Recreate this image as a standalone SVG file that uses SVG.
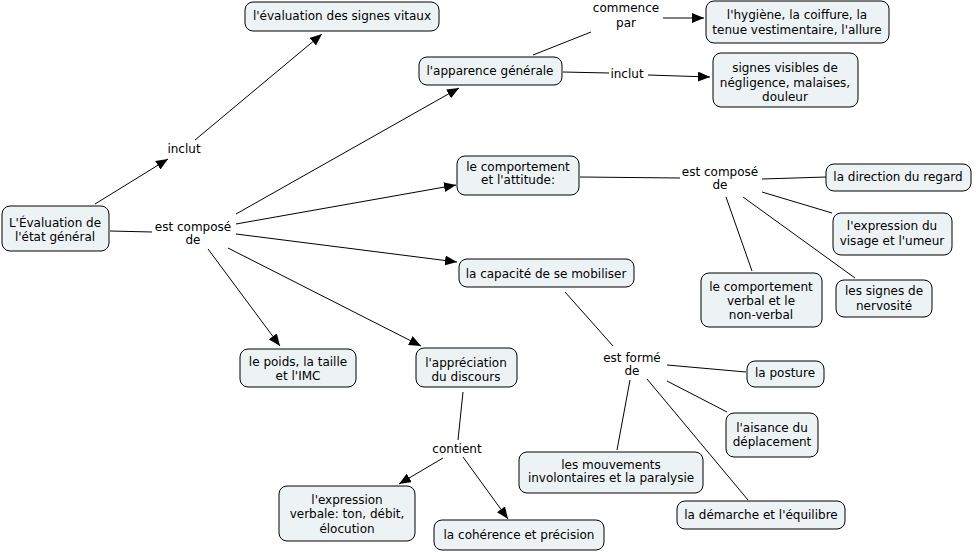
<svg xmlns="http://www.w3.org/2000/svg" width="976" height="552" viewBox="0 0 976 552">
<defs>
<marker id="arr" viewBox="0 0 12 10" refX="12" refY="5" markerWidth="12" markerHeight="10" markerUnits="userSpaceOnUse" orient="auto">
<path d="M0,0 L12,5 L0,10 z" fill="#000"/>
</marker>
</defs>
<style>
rect.n{fill:#edf3f5;stroke:#000;stroke-width:1}
text{font-family:"DejaVu Sans",Verdana,sans-serif;font-size:12px;fill:#000;text-anchor:middle}
line{stroke:#000;stroke-width:1}
line.a{marker-end:url(#arr)}
</style>
<rect width="976" height="552" fill="#fff"/>
<g id="connectors">
<line class="a" x1="95" y1="204" x2="168" y2="159"/>
<line class="a" x1="195" y1="140" x2="322" y2="34"/>
<line x1="110" y1="231" x2="152" y2="232"/>
<line class="a" x1="236" y1="214" x2="459" y2="88"/>
<line class="a" x1="236" y1="224" x2="456" y2="185"/>
<line class="a" x1="236" y1="234" x2="457" y2="262"/>
<line class="a" x1="208" y1="249" x2="280" y2="346"/>
<line class="a" x1="228" y1="248" x2="421" y2="346"/>
<line x1="533" y1="55" x2="591" y2="32"/>
<line class="a" x1="663" y1="18" x2="704" y2="18"/>
<line x1="563" y1="72" x2="609" y2="73"/>
<line class="a" x1="648" y1="75" x2="710" y2="77"/>
<line x1="580" y1="177" x2="680" y2="178"/>
<line x1="762" y1="179" x2="826" y2="177"/>
<line x1="762" y1="192" x2="832" y2="213"/>
<line x1="743" y1="197" x2="855" y2="278"/>
<line x1="726" y1="197" x2="752" y2="271"/>
<line x1="565" y1="292" x2="613" y2="346"/>
<line x1="667" y1="365" x2="746" y2="372"/>
<line x1="667" y1="381" x2="727" y2="412"/>
<line x1="647" y1="379" x2="748" y2="500"/>
<line x1="630" y1="380" x2="617" y2="450"/>
<line x1="463" y1="392" x2="458" y2="440"/>
<line class="a" x1="443" y1="458" x2="399" y2="484"/>
<line class="a" x1="463" y1="457" x2="508" y2="519"/>
</g>
<g id="lp-inclut1"><text x="184" y="153">inclut</text></g>
<g id="lp-compose1"><text x="193" y="231">est composé</text><text x="193" y="244">de</text></g>
<g id="lp-commence"><text x="626" y="12">commence</text><text x="626" y="27">par</text></g>
<g id="lp-inclut2"><text x="627" y="78">inclut</text></g>
<g id="lp-compose2"><text x="720" y="176">est composé</text><text x="720" y="189">de</text></g>
<g id="lp-forme"><text x="632" y="362">est formé</text><text x="632" y="375">de</text></g>
<g id="lp-contient"><text x="457" y="453">contient</text></g>
<g id="n-root"><rect class="n" x="2" y="206" width="107" height="45" rx="8"/><text x="55" y="227">L'Évaluation de</text><text x="55" y="241">l'état général</text></g>
<g id="n-vitaux"><rect class="n" x="245" y="2" width="194" height="29" rx="8"/><text x="342" y="20">l'évaluation des signes vitaux</text></g>
<g id="n-apparence"><rect class="n" x="419" y="57" width="143" height="28" rx="8"/><text x="490" y="75">l'apparence générale</text></g>
<g id="n-hygiene"><rect class="n" x="706" y="1" width="183" height="42" rx="8"/><text x="797" y="19">l'hygiène, la coiffure, la</text><text x="797" y="34">tenue vestimentaire, l'allure</text></g>
<g id="n-signes"><rect class="n" x="713" y="53" width="145" height="54" rx="8"/><text x="785" y="72">signes visibles de</text><text x="785" y="87">négligence, malaises,</text><text x="785" y="101">douleur</text></g>
<g id="n-comportement"><rect class="n" x="457" y="156" width="122" height="39" rx="8"/><text x="518" y="171">le comportement</text><text x="518" y="184">et l'attitude:</text></g>
<g id="n-regard"><rect class="n" x="826" y="164" width="145" height="27" rx="8"/><text x="898" y="181">la direction du regard</text></g>
<g id="n-visage"><rect class="n" x="833" y="213" width="119" height="42" rx="8"/><text x="892" y="230">l'expression du</text><text x="892" y="245">visage et l'umeur</text></g>
<g id="n-capacite"><rect class="n" x="459" y="259" width="175" height="28" rx="8"/><text x="546" y="278">la capacité de se mobiliser</text></g>
<g id="n-verbal"><rect class="n" x="701" y="273" width="121" height="54" rx="8"/><text x="761" y="291">le comportement</text><text x="761" y="305">verbal et le</text><text x="761" y="319">non-verbal</text></g>
<g id="n-nervosite"><rect class="n" x="836" y="280" width="96" height="37" rx="8"/><text x="884" y="295">les signes de</text><text x="884" y="310">nervosité</text></g>
<g id="n-poids"><rect class="n" x="240" y="349" width="116" height="38" rx="8"/><text x="298" y="366">le poids, la taille</text><text x="298" y="380">et l'IMC</text></g>
<g id="n-discours"><rect class="n" x="416" y="348" width="101" height="39" rx="8"/><text x="466" y="367">l'appréciation</text><text x="466" y="381">du discours</text></g>
<g id="n-expression"><rect class="n" x="279" y="486" width="136" height="55" rx="8"/><text x="347" y="504">l'expression</text><text x="347" y="518">verbale: ton, débit,</text><text x="347" y="533">élocution</text></g>
<g id="n-coherence"><rect class="n" x="434" y="520" width="170" height="30" rx="8"/><text x="519" y="539">la cohérence et précision</text></g>
<g id="n-posture"><rect class="n" x="747" y="361" width="77" height="26" rx="8"/><text x="785" y="377">la posture</text></g>
<g id="n-aisance"><rect class="n" x="726" y="413" width="92" height="44" rx="8"/><text x="772" y="432">l'aisance du</text><text x="772" y="446">déplacement</text></g>
<g id="n-mouvements"><rect class="n" x="519" y="452" width="184" height="41" rx="8"/><text x="611" y="469">les mouvements</text><text x="611" y="482">involontaires et la paralysie</text></g>
<g id="n-demarche"><rect class="n" x="677" y="501" width="168" height="28" rx="8"/><text x="761" y="519">la démarche et l'équilibre</text></g>
</svg>
